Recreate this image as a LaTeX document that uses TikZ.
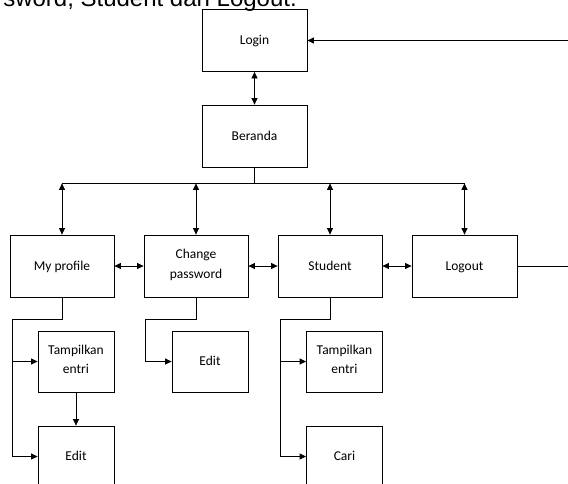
\documentclass[tikz,border=0pt]{standalone}
\usepackage{fontspec}
\setmainfont{Carlito}
\newfontfamily\headfont{Liberation Sans}
\usetikzlibrary{arrows.meta}

\begin{document}
\begin{tikzpicture}[
    x=1pt, y=-1pt,
    >={Triangle[length=6.5pt, width=6pt]},
    box/.style={
        rectangle,
        minimum width=105pt,
        minimum height=62pt,
        draw=black,
        line width=0.8pt,
        align=center,
        font=\fontsize{13.5}{19.5}\selectfont,
        execute at begin node={\rule[-4pt]{0pt}{16pt}},
    },
    subbox/.style={
        box,
        minimum width=76pt,
        minimum height=61pt,
    },
    arrowline/.style={
        black,
        line width=0.8pt,
        ->,
    },
    biarrow/.style={
        black,
        line width=0.8pt,
        <->,
    },
    plainline/.style={
        black,
        line width=0.8pt,
    },
]

% Frame of the picture
\clip (0,0) rectangle (568,483);

% Cut-off line of the text above
\node[anchor=base east, inner sep=0pt, font=\headfont\fontsize{24}{28}\selectfont] (headline) at (297,6) {sword, Student dan Logout.};

% Top boxes
\node[box] (login) at (254.5,40.5) {Login};
\node[box] (beranda) at (254.5,136) {Beranda};

% Main menu
\node[box, minimum width=104pt] (myprofile) at (62,266) {My profile};
\node[box, minimum width=104pt] (changepw) at (196,266) {Change\\password};
\node[box, minimum width=104pt] (student) at (330,266) {Student};
\node[box] (logout) at (464.5,266) {Logout};

% Sub menus
\node[subbox] (tampilA) at (76,361.5) {Tampilkan\\entri};
\node[subbox] (editA) at (76,456.5) {Edit};
\node[subbox] (editB) at (210,361.5) {Edit};
\node[subbox] (tampilC) at (344.5,361.5) {Tampilkan\\entri};
\node[subbox] (cari) at (344.5,456.5) {Cari};

% Login <-> Beranda
\draw[biarrow] (login.south) -- (beranda.north);

% Bus from Beranda
\draw[plainline] (beranda.south) -- ++(0,16) coordinate (bus);
\draw[plainline] (myprofile.north |- bus) -- (logout.north |- bus);
\foreach \m in {myprofile, changepw, student, logout}
    \draw[biarrow] (\m.north |- bus) -- (\m.north);

% Between the menu boxes
\draw[biarrow] (myprofile.east) -- (changepw.west);
\draw[biarrow] (changepw.east) -- (student.west);
\draw[biarrow] (student.east) -- (logout.west);

% Logout back to Login
\draw[arrowline] (logout.east) -- ++(60,0) |- (login.east);

% My profile branch
\draw[arrowline] (myprofile.south) -- ++(0,22) -| ([xshift=-25pt]editA.west) -- (editA.west);
\draw[arrowline] ([xshift=-25pt]tampilA.west) -- (tampilA.west);
\draw[arrowline] (tampilA.south) -- (editA.north);

% Change password branch
\draw[arrowline] (changepw.south) -- ++(0,22) -| ([xshift=-26pt]editB.west) -- (editB.west);

% Student branch
\draw[arrowline] (student.south) -- ++(0,22) -| ([xshift=-26pt]cari.west) -- (cari.west);
\draw[arrowline] ([xshift=-26pt]tampilC.west) -- (tampilC.west);

\end{tikzpicture}
\end{document}
